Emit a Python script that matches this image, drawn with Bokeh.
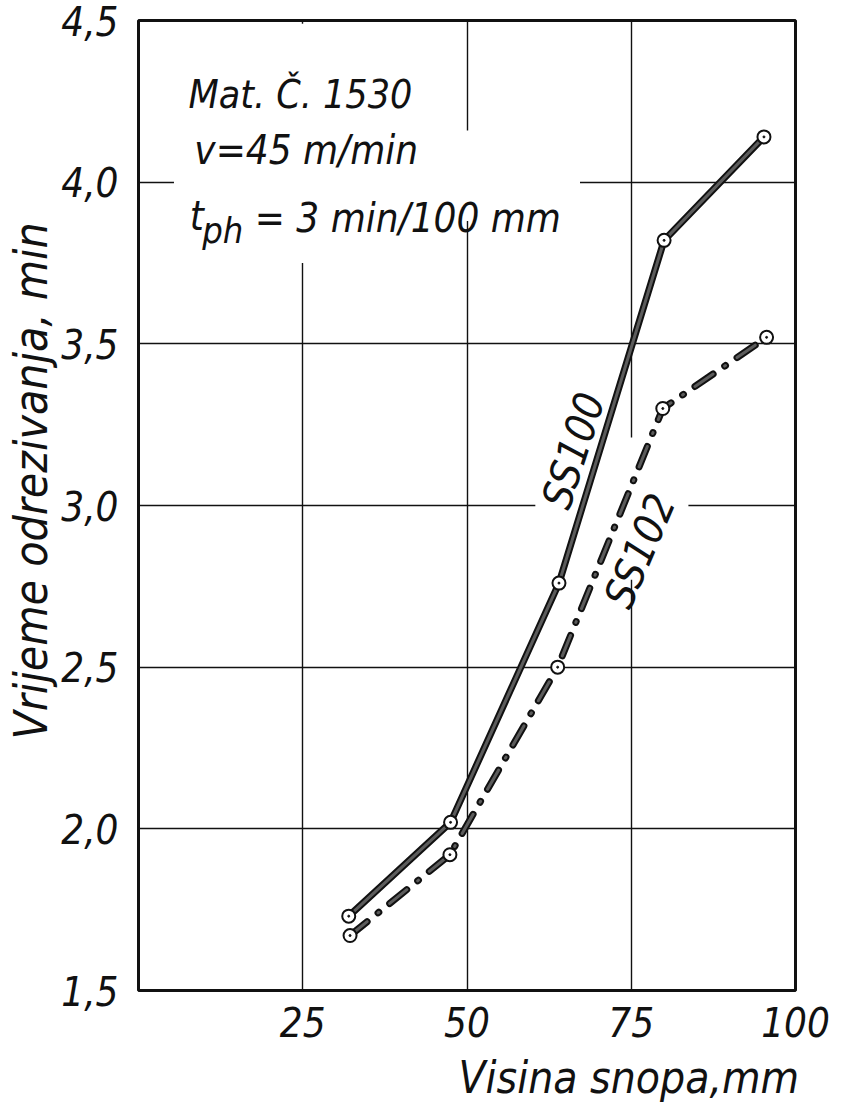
from bokeh.plotting import figure
from bokeh.models import FixedTicker, Label, BoxAnnotation, Title
from bokeh.embed import file_html
from bokeh.resources import INLINE

# ---- data ----
x_ss100 = [32.0, 47.5, 64.0, 80.0, 95.2]
y_ss100 = [1.73, 2.02, 2.76, 3.82, 4.14]
x_ss102 = [32.2, 47.4, 63.8, 79.8, 95.6]
y_ss102 = [1.67, 1.92, 2.50, 3.30, 3.52]
x_ticks = [25, 50, 75, 100]
x_tick_labels = ["25", "50", "75", "100"]
y_ticks = [1.5, 2.0, 2.5, 3.0, 3.5, 4.0, 4.5]
y_tick_labels = ["1,5", "2,0", "2,5", "3,0", "3,5", "4,0", "4,5"]
series_names = ["SS100", "SS102"]
x_title = "Visina snopa,mm"
y_title = "Vrijeme odrezivanja, min"
note_mat = "Mat. Č. 1530"
note_v = "v=45 m/min"
note_t = "t"
note_ph = "ph"
note_tph = "= 3 min/100 mm"

FONT = "DejaVu Sans Condensed, Roboto, sans-serif"
INK = "#111111"

p = figure(frame_width=657, frame_height=970,
           x_range=(0, 100), y_range=(1.5, 4.5),
           output_backend="svg", toolbar_location=None,
           min_border_left=134, min_border_right=44,
           min_border_top=20, min_border_bottom=126)
p.background_fill_color = "white"
p.border_fill_color = "white"
p.outline_line_color = INK
p.outline_line_width = 3

for ax in (p.xaxis[0], p.yaxis[0]):
    ax.axis_line_color = None
    ax.major_tick_line_color = None
    ax.minor_tick_line_color = None
    ax.major_label_text_font = FONT
    ax.major_label_text_font_style = "italic"
    ax.major_label_text_font_size = "40px"
    ax.major_label_text_color = INK

p.xaxis.ticker = FixedTicker(ticks=x_ticks)
p.xaxis.major_label_overrides = {t: s for t, s in zip(x_ticks, x_tick_labels)}
p.xaxis.major_label_standoff = 10
p.yaxis.ticker = FixedTicker(ticks=y_ticks)
p.yaxis.major_label_overrides = {t: s for t, s in zip(y_ticks, y_tick_labels)}
p.yaxis.major_label_standoff = 14

p.xgrid.ticker = FixedTicker(ticks=x_ticks)
p.ygrid.ticker = FixedTicker(ticks=y_ticks)
for g in (p.xgrid[0], p.ygrid[0]):
    g.grid_line_color = INK
    g.grid_line_width = 1.4
    g.grid_line_alpha = 1.0

# white gaps in the grid, as in the drawing
for l, r, b, t in [(5.4, 67.2, 3.965, 4.035), (22, 28, 3.75, 4.49),
                   (47, 53, 3.88, 4.16), (60.4, 83.7, 2.97, 3.03),
                   (73, 77, 2.77, 3.21)]:
    p.add_layout(BoxAnnotation(left=l, right=r, bottom=b, top=t,
                               fill_color="white", fill_alpha=1.0,
                               line_color=None, level="underlay"))

# SS100: solid thick line
p.line(x_ss100, y_ss100, line_color=INK, line_width=7, line_join="round", line_cap="round")
p.line(x_ss100, y_ss100, line_color="#5c5c5c", line_width=3, line_join="round", line_cap="round")
# SS102: dash-dot line
p.line(x_ss102, y_ss102, line_color=INK, line_width=7, line_dash="22 14 1 14",
       line_cap="round", line_join="round")
p.line(x_ss102, y_ss102, line_color="#5c5c5c", line_width=3, line_dash="22 14 1 14",
       line_cap="round", line_join="round")

for xs, ys in ((x_ss100, y_ss100), (x_ss102, y_ss102)):
    p.scatter(xs, ys, size=13, fill_color="white", line_color=INK, line_width=2)
    p.scatter(xs, ys, size=2, fill_color=INK, line_color=INK)

def lab(x, y, text, size="40px", align="left", baseline="alphabetic", angle=0):
    p.add_layout(Label(x=x, y=y, text=text, text_font=FONT,
                       text_font_style="italic", text_font_size=size,
                       text_color=INK, text_align=align, text_baseline=baseline,
                       angle=angle, angle_units="deg"))

lab(7.6, 4.27, note_mat, size="39px")
lab(8.5, 4.10, note_v)
lab(7.8, 3.895, note_t)
lab(9.7, 3.85, note_ph, size="36px")
lab(17.7, 3.89, note_tph)

lab(66.2, 3.17, series_names[0], size="42px", align="center", baseline="middle", angle=72)
lab(76.3, 2.86, series_names[1], size="42px", align="center", baseline="middle", angle=67)

p.add_layout(Title(text=x_title, align="left", offset=320, standoff=20,
                   text_font=FONT, text_font_style="italic", text_font_size="44px",
                   text_color=INK), "below")
p.add_layout(Title(text=y_title, align="left", offset=251, standoff=2,
                   text_font=FONT, text_font_style="italic", text_font_size="46px",
                   text_color=INK), "left")

open("out.html", "w").write(file_html(p, INLINE))
